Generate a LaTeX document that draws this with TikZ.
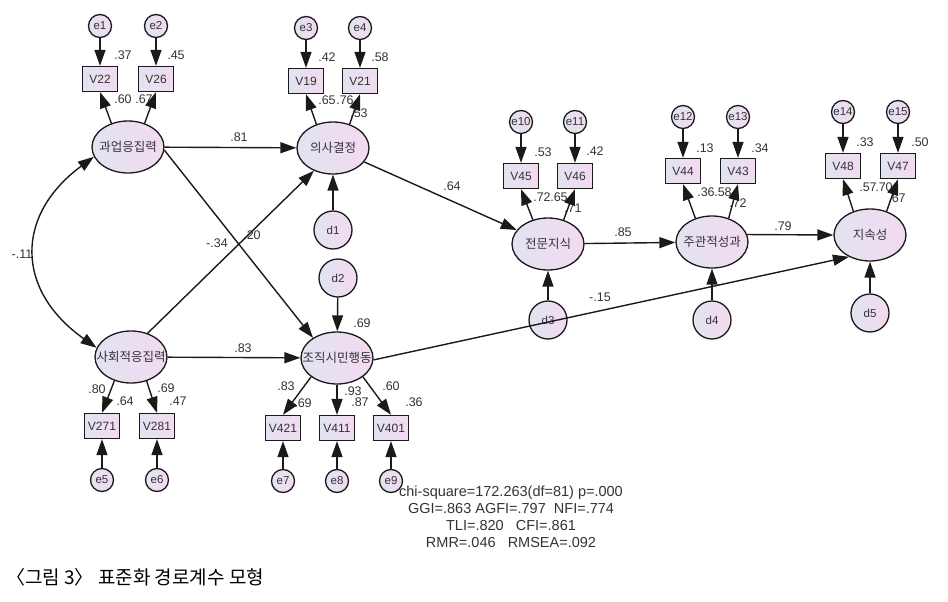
\documentclass[tikz,border=0pt]{standalone}
\usepackage{fontspec}
\setmainfont{Liberation Sans}
\newfontfamily\korfont{Noto Sans CJK KR}
\usepackage{tikz}
\usetikzlibrary{shapes.geometric, arrows.meta}
\definecolor{SEMLine}{HTML}{1A1A1A}
\definecolor{SEMLeft}{HTML}{E2E3F1}
\definecolor{SEMRight}{HTML}{F3DAF0}
\definecolor{SEMText}{HTML}{333333}
\tikzset{
    % Node styles
    latentnode/.style={
        ellipse,
        draw=SEMLine,
        line width=1.3pt,
        left color=SEMLeft,
        right color=SEMRight,
        minimum width=72pt,
        minimum height=52pt,
        inner xsep=-12pt,
        inner ysep=0pt,
        text=SEMText,
        font=\korfont\fontsize{12.5}{14}\selectfont
    },
    obsbox/.style={
        rectangle,
        draw=SEMLine,
        line width=1.3pt,
        left color=SEMLeft,
        right color=SEMRight,
        minimum width=35pt,
        minimum height=25pt,
        inner sep=1pt,
        text=SEMText,
        font=\fontsize{12}{14}\selectfont
    },
    errnode/.style={
        circle,
        draw=SEMLine,
        line width=1.3pt,
        left color=SEMLeft,
        right color=SEMRight,
        minimum size=23pt,
        inner sep=0pt,
        text=SEMText,
        font=\fontsize{11.5}{13}\selectfont
    },
    distnode/.style={
        errnode,
        minimum size=38pt,
        font=\fontsize{11.5}{13}\selectfont
    },
    % Arrow styles
    myarrow/.style={
        -{Triangle[length=16pt,width=11pt]},
        line width=1.4pt,
        SEMLine
    },
    twoarrow/.style={
        {Triangle[length=16pt,width=11pt]}-{Triangle[length=16pt,width=11pt]},
        line width=1.4pt,
        SEMLine
    },
    % Text styles
    coefl/.style={
        inner sep=0pt,
        text=SEMText,
        font=\fontsize{12.5}{14}\selectfont
    }
}

\begin{document}
\begin{tikzpicture}[x=1pt, y=-1pt]
    \useasboundingbox (0,0) rectangle (948,602);

    % Latent factors
    \node[latentnode] (task) at (128,147) {과업응집력};
    \node[latentnode] (social) at (131,357) {사회적응집력};
    \node[latentnode] (decision) at (333,148) {의사결정};
    \node[latentnode] (citizen) at (337,358) {조직시민행동};
    \node[latentnode] (expert) at (548,244) {전문지식};
    \node[latentnode] (perform) at (712,242) {주관적성과};
    \node[latentnode] (persist) at (870,235) {지속성};

    % Observed items
    \node[obsbox] (v22) at (100,79) {V22};
    \node[obsbox] (v26) at (156,79) {V26};
    \node[obsbox] (v19) at (306,81) {V19};
    \node[obsbox] (v21) at (360,81) {V21};
    \node[obsbox] (v271) at (102,426) {V271};
    \node[obsbox] (v281) at (157,426) {V281};
    \node[obsbox] (v421) at (283,428) {V421};
    \node[obsbox] (v411) at (337,428) {V411};
    \node[obsbox] (v401) at (391,428) {V401};
    \node[obsbox] (v45) at (521,176) {V45};
    \node[obsbox] (v46) at (575,176) {V46};
    \node[obsbox] (v44) at (683,171) {V44};
    \node[obsbox] (v43) at (738,171) {V43};
    \node[obsbox] (v48) at (843,166) {V48};
    \node[obsbox] (v47) at (898,166) {V47};

    % Error terms
    \node[errnode] (e1) at (100,26) {e1};
    \node[errnode] (e2) at (156,26) {e2};
    \node[errnode] (e3) at (306,28) {e3};
    \node[errnode] (e4) at (360,28) {e4};
    \node[errnode] (e5) at (102,480) {e5};
    \node[errnode] (e6) at (157,480) {e6};
    \node[errnode] (e7) at (283,481) {e7};
    \node[errnode] (e8) at (337,481) {e8};
    \node[errnode] (e9) at (391,481) {e9};
    \node[errnode] (e10) at (521,122) {e10};
    \node[errnode] (e11) at (575,122) {e11};
    \node[errnode] (e12) at (683,117) {e12};
    \node[errnode] (e13) at (738,117) {e13};
    \node[errnode] (e14) at (843,112) {e14};
    \node[errnode] (e15) at (898,112) {e15};

    % Disturbances
    \node[distnode] (d1) at (333,230) {d1};
    \node[distnode] (d2) at (338,278) {d2};
    \node[distnode] (d3) at (548,320) {d3};
    \node[distnode] (d4) at (712,320) {d4};
    \node[distnode] (d5) at (870,313) {d5};

    % Coefficients
    \node[coefl] (c37) at (123,55) {.37};
    \node[coefl] (c45) at (176,55) {.45};
    \node[coefl] (c60) at (123,99) {.60};
    \node[coefl] (c67) at (144,99) {.67};
    \node[coefl] (c42) at (327,57) {.42};
    \node[coefl] (c58) at (380,57) {.58};
    \node[coefl] (c65) at (327,100) {.65};
    \node[coefl] (c76) at (345,100) {.76};
    \node[coefl] (r53) at (359,113) {.53};
    \node[coefl] (c81) at (239,137) {.81};
    \node[coefl] (cm34) at (217,243) {-.34};
    \node[coefl] (c20) at (252,235) {.20};
    \node[coefl] (cm11) at (22,254) {-.11};
    \node[coefl] (r69) at (362,323) {.69};
    \node[coefl] (c83) at (243,348) {.83};
    \node[coefl] (c80) at (97,389) {.80};
    \node[coefl] (c64) at (125,401) {.64};
    \node[coefl] (c69) at (166,388) {.69};
    \node[coefl] (c47) at (178,401) {.47};
    \node[coefl] (c83b) at (286,386) {.83};
    \node[coefl] (c69b) at (303,403) {.69};
    \node[coefl] (c93) at (353,391) {.93};
    \node[coefl] (c87) at (360,402) {.87};
    \node[coefl] (c60b) at (391,386) {.60};
    \node[coefl] (c36) at (414,402) {.36};
    \node[coefl] (c64b) at (452,186) {.64};
    \node[coefl] (c53) at (543,152) {.53};
    \node[coefl] (c42b) at (595,151) {.42};
    \node[coefl] (c72) at (542,197) {.72};
    \node[coefl] (c65b) at (559,197) {.65};
    \node[coefl] (r71) at (573,208) {.71};
    \node[coefl] (c85) at (623,232) {.85};
    \node[coefl] (cm15) at (600,297) {-.15};
    \node[coefl] (c13) at (705,148) {.13};
    \node[coefl] (c34) at (760,148) {.34};
    \node[coefl] (c36b) at (706,192) {.36};
    \node[coefl] (c58b) at (723,192) {.58};
    \node[coefl] (r72) at (738,203) {.72};
    \node[coefl] (c79) at (783,226) {.79};
    \node[coefl] (c33) at (865,142) {.33};
    \node[coefl] (c50) at (920,142) {.50};
    \node[coefl] (c57) at (868,187) {.57};
    \node[coefl] (c70) at (884,187) {.70};
    \node[coefl] (r67) at (897,198) {.67};

    % Structural paths
    \draw[myarrow] (task) -- (decision);
    \draw[myarrow] (task.-5) -- (citizen.140);
    \draw[myarrow] (social.55) -- (decision.230);
    \draw[myarrow] (social) -- (citizen);
    \draw[twoarrow] (task.196) .. controls (15,215) and (15,290) .. (social.165);
    \draw[myarrow] (decision) -- (expert);
    \draw[myarrow] (citizen.-3) -- (persist.226);
    \draw[myarrow] (expert) -- (perform);
    \draw[myarrow] (perform.12) -- (persist.west);
    \draw[myarrow] (d1) -- (decision);
    \draw[myarrow] (d2) -- (citizen);
    \draw[myarrow] (d3) -- (expert);
    \draw[myarrow] (d4) -- (perform);
    \draw[myarrow] (d5) -- (persist);

    % Loadings
    \draw[myarrow] (task.125) -- (v22.south);
    \draw[myarrow] (task.55) -- (v26.south);
    \draw[myarrow] (decision.125) -- (v19.south);
    \draw[myarrow] (decision.55) -- (v21.south);
    \draw[myarrow] (social.235) -- (v271.north);
    \draw[myarrow] (social.-57) -- (v281.north);
    \draw[myarrow] (citizen.216) -- (v421.north);
    \draw[myarrow] (citizen.south) -- (v411.north);
    \draw[myarrow] (citizen.-36) -- (v401.north);
    \draw[myarrow] (expert.122) -- (v45.south);
    \draw[myarrow] (expert.57) -- (v46.south);
    \draw[myarrow] (perform.125) -- (v44.south);
    \draw[myarrow] (perform.55) -- (v43.south);
    \draw[myarrow] (persist.125) -- (v48.south);
    \draw[myarrow] (persist.55) -- (v47.south);

    % Errors
    \draw[myarrow] (e1) -- (v22);
    \draw[myarrow] (e2) -- (v26);
    \draw[myarrow] (e3) -- (v19);
    \draw[myarrow] (e4) -- (v21);
    \draw[myarrow] (e5) -- (v271);
    \draw[myarrow] (e6) -- (v281);
    \draw[myarrow] (e7) -- (v421);
    \draw[myarrow] (e8) -- (v411);
    \draw[myarrow] (e9) -- (v401);
    \draw[myarrow] (e10) -- (v45);
    \draw[myarrow] (e11) -- (v46);
    \draw[myarrow] (e12) -- (v44);
    \draw[myarrow] (e13) -- (v43);
    \draw[myarrow] (e14) -- (v48);
    \draw[myarrow] (e15) -- (v47);

    % Fit indices
    \node[text=SEMText, align=center, font=\fontsize{14.5}{17}\selectfont] (fit) at (511,517) {chi-square=172.263(df=81) p=.000\\GGI=.863 AGFI=.797\ \ NFI=.774\\TLI=.820\ \ \ CFI=.861\\RMR=.046\ \ \ RMSEA=.092};

    % Caption
    \node[anchor=west, inner sep=0pt, font=\korfont\fontsize{19}{21}\selectfont] (caption) at (6,577) {〈그림 3〉 표준화 경로계수 모형};
\end{tikzpicture}
\end{document}
